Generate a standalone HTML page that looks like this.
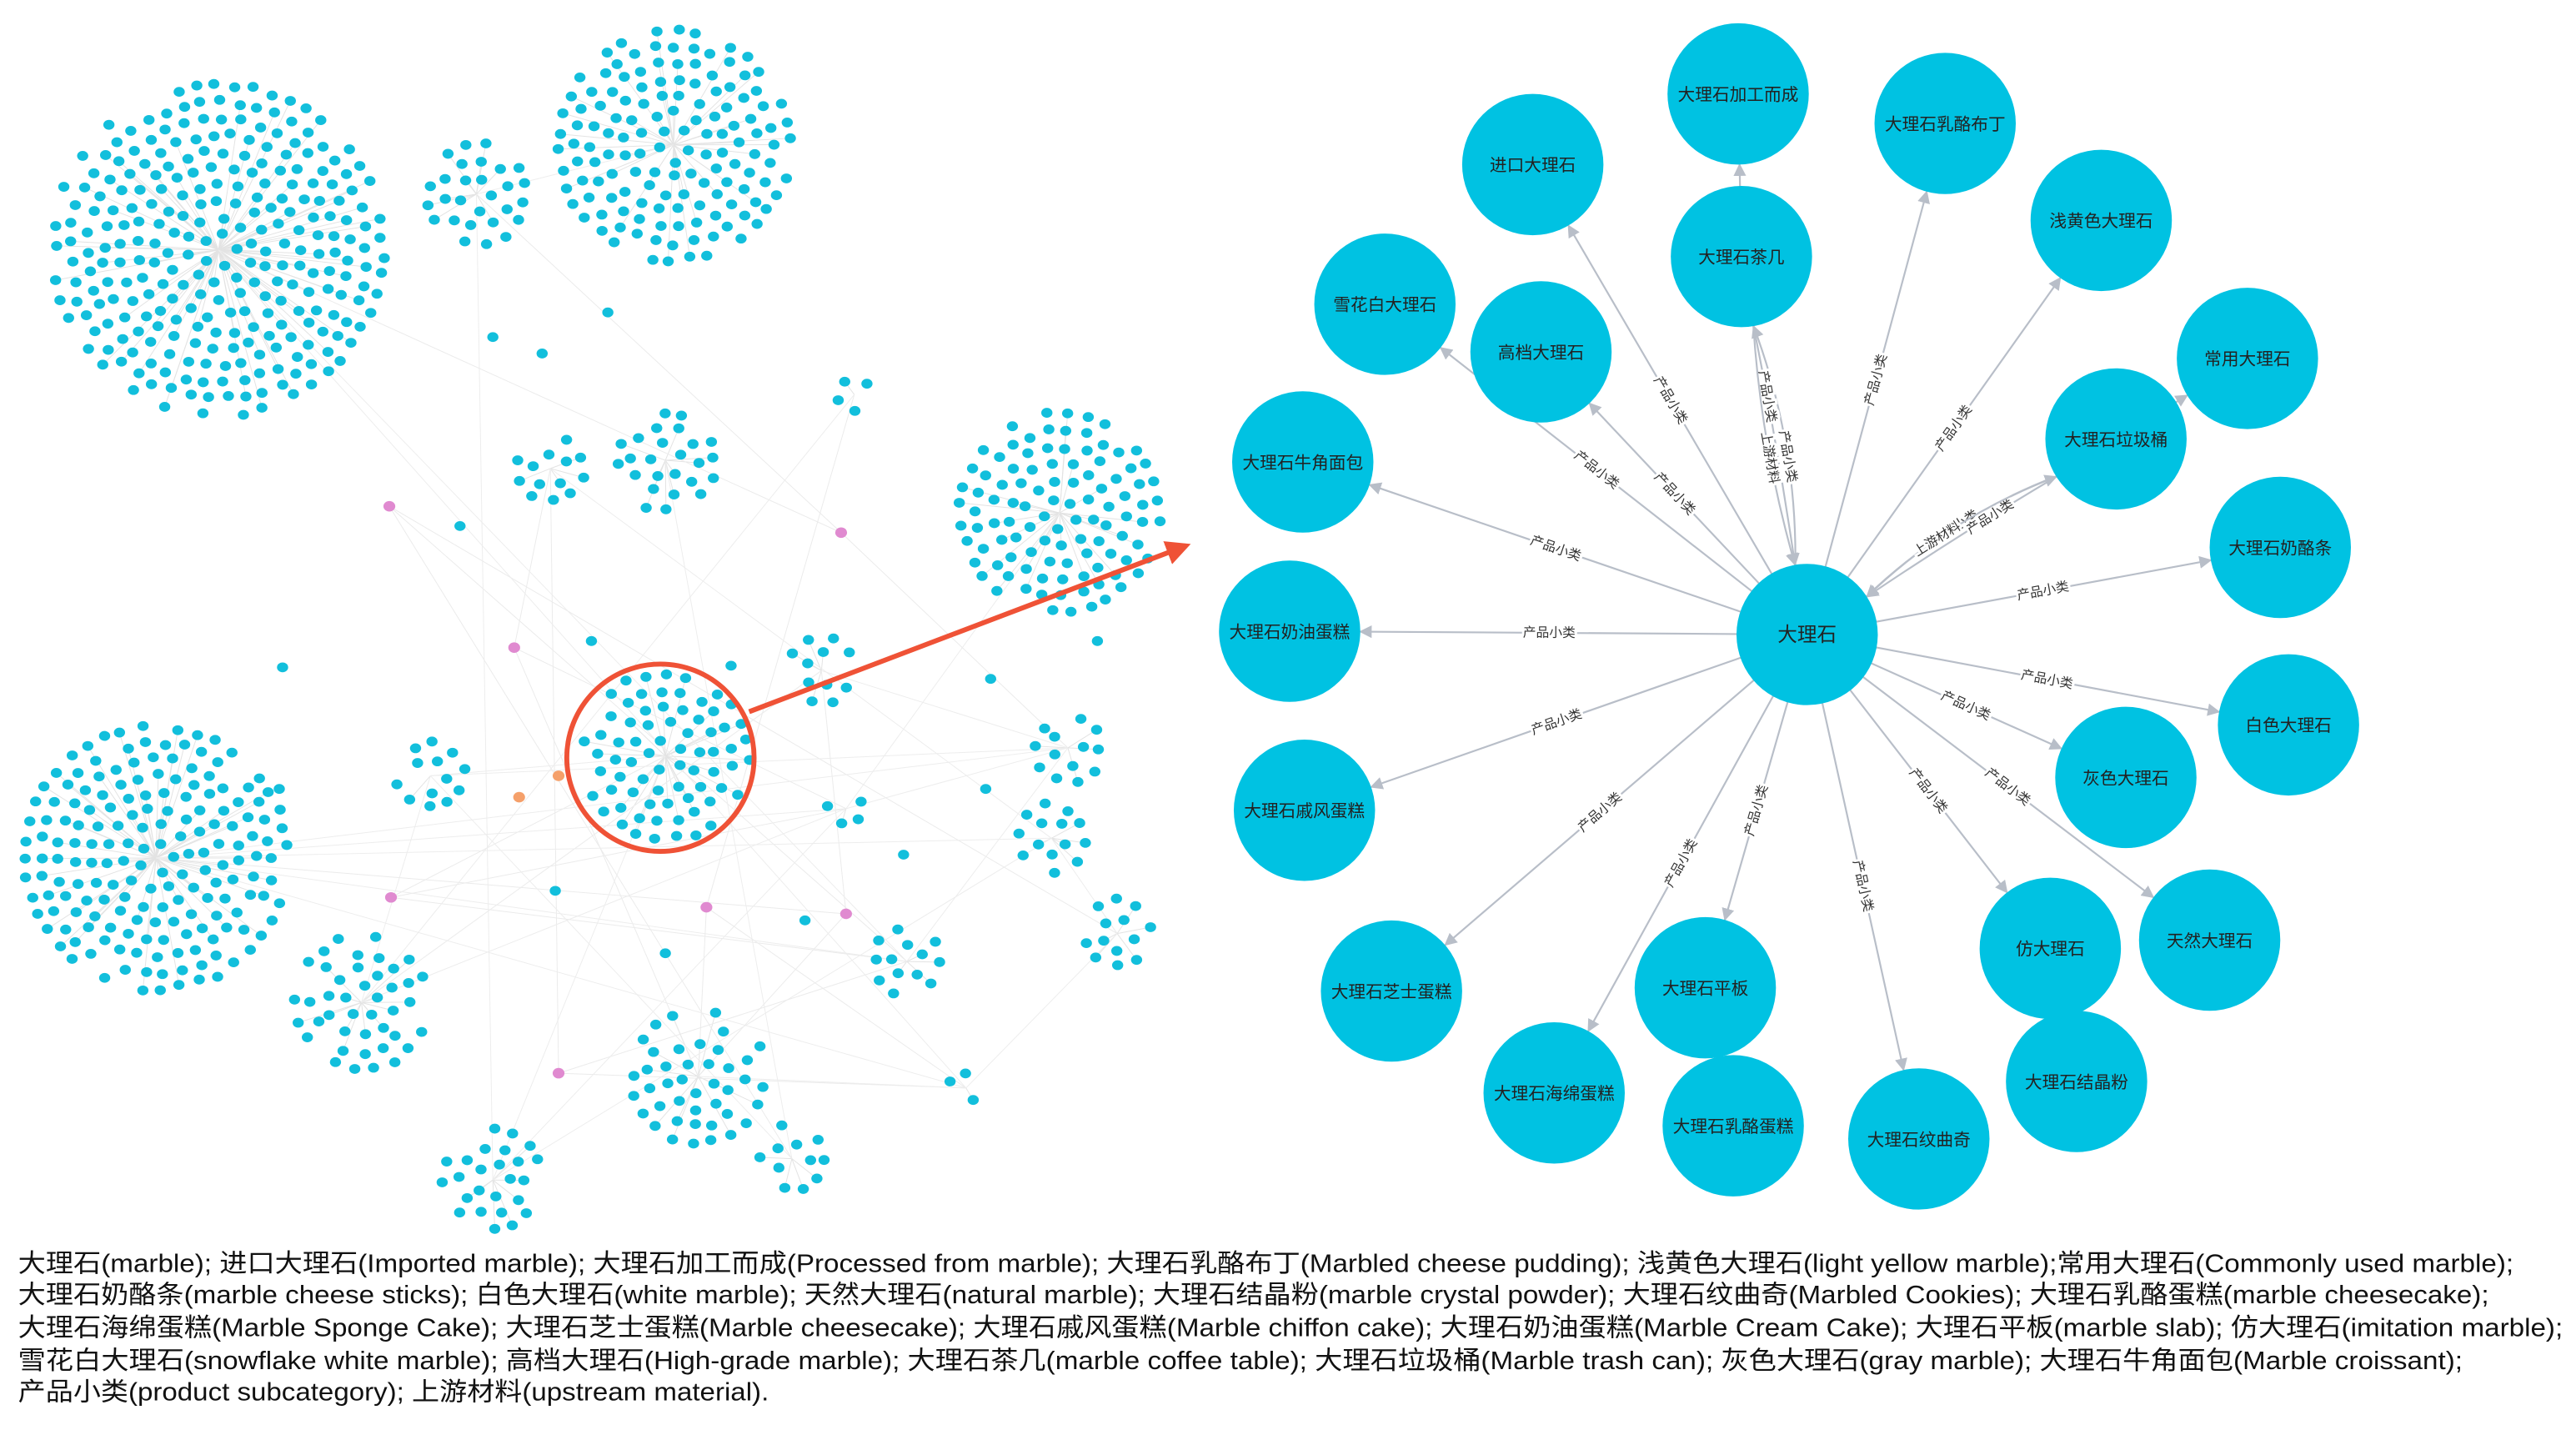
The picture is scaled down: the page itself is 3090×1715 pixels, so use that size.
<!DOCTYPE html>
<html><head><meta charset="utf-8"><style>
html,body{margin:0;padding:0;background:#fff;}
svg{display:block}
</style></head><body>
<svg id="s" width="3090" height="1715" viewBox="0 0 1568 870" xmlns="http://www.w3.org/2000/svg">
<defs>
<marker id="ah" viewBox="0 0 10 10" refX="9" refY="5" markerWidth="7" markerHeight="7" orient="auto"><path d="M0,0 L10,5 L0,10 z" fill="#b8bec8"/></marker>
<marker id="rh" viewBox="0 0 10 10" refX="8" refY="5" markerWidth="5" markerHeight="5" orient="auto"><path d="M0,0 L10,5 L0,10 z" fill="#ef5236"/></marker>
</defs>
<g id="left"></g>
<g id="right"></g>
<circle cx="402" cy="461" r="57" fill="none" stroke="#ef5236" stroke-width="3"/>
<line x1="456" y1="433" x2="722" y2="332" stroke="#ef5236" stroke-width="3" marker-end="url(#rh)"/>
<g font-family="Liberation Sans, Noto Sans CJK SC, sans-serif" font-size="15.6" fill="#111" lengthAdjust="spacingAndGlyphs">
<text x="11" y="774" textLength="1519" lengthAdjust="spacingAndGlyphs">大理石(marble); 进口大理石(Imported marble); 大理石加工而成(Processed from marble); 大理石乳酪布丁(Marbled cheese pudding); 浅黄色大理石(light yellow marble);常用大理石(Commonly used marble);</text>
<text x="11" y="793" textLength="1504" lengthAdjust="spacingAndGlyphs">大理石奶酪条(marble cheese sticks); 白色大理石(white marble); 天然大理石(natural marble); 大理石结晶粉(marble crystal powder); 大理石纹曲奇(Marbled Cookies); 大理石乳酪蛋糕(marble cheesecake);</text>
<text x="11" y="813" textLength="1549" lengthAdjust="spacingAndGlyphs">大理石海绵蛋糕(Marble Sponge Cake); 大理石芝士蛋糕(Marble cheesecake); 大理石戚风蛋糕(Marble chiffon cake); 大理石奶油蛋糕(Marble Cream Cake); 大理石平板(marble slab); 仿大理石(imitation marble);</text>
<text x="11" y="833" textLength="1488" lengthAdjust="spacingAndGlyphs">雪花白大理石(snowflake white marble); 高档大理石(High-grade marble); 大理石茶几(marble coffee table); 大理石垃圾桶(Marble trash can); 灰色大理石(gray marble); 大理石牛角面包(Marble croissant);</text>
<text x="11" y="852" textLength="457" lengthAdjust="spacingAndGlyphs">产品小类(product subcategory); 上游材料(upstream material).</text>
</g>
</svg>
<script>
var NS="http://www.w3.org/2000/svg";
function el(t,a,p){var e=document.createElementNS(NS,t);for(var k in a)e.setAttribute(k,a[k]);p.appendChild(e);return e;}
var seed=7;function rnd(){seed=(seed*16807)%2147483647;return seed/2147483647;}
var L=document.getElementById('left');
var gl=el('g',{},L), gd=el('g',{},L);
var clusters=[[133,152,104],[410,88,74],[290,118,32],[645,312,62],[405,460,52],[95,522,80],[220,610,40],[425,655,40],[405,280,32],[335,285,26],[520,240,16],[650,455,20],[640,510,20],[680,568,20],[552,585,26],[588,662,16],[482,705,20],[300,718,36],[262,472,20],[500,408,20],[515,492,10]];
var hubs=[];
clusters.forEach(function(c){
  var cx=c[0],cy=c[1],R=c[2];hubs.push([cx,cy]);
  for(var r=10;r<=R;r+=10){var n=Math.floor(2*Math.PI*r/11.5);var off=rnd()*6;
    for(var i=0;i<n;i++){var a=off+i*2*Math.PI/n;var x=cx+r*Math.cos(a)+(rnd()-.5)*3,y=cy+r*Math.sin(a)+(rnd()-.5)*3;
      if(r>R-12&&rnd()<0.2)continue;
      if(rnd()<0.3)el('line',{x1:cx,y1:cy,x2:x,y2:y,stroke:'#e3e3e3','stroke-width':.5},gl);
      el('ellipse',{cx:x,cy:y,rx:3.4,ry:3,fill:'#12bfdc'},gd);}}
});
var pink=[[237,308],[512,324],[313,394],[238,546],[430,552],[515,556],[340,653]];
var sing=[[172,406],[280,320],[360,390],[445,405],[603,413],[668,390],[170,480],[405,580],[490,560],[550,520],[600,480],[338,542],[330,215],[370,190],[300,205]];
sing.forEach(function(p){el('ellipse',{cx:p[0],cy:p[1],rx:3.4,ry:3,fill:'#12bfdc'},gd);});
pink.forEach(function(p){for(var k=0;k<3;k++){var h=hubs[Math.floor(rnd()*hubs.length)];el('line',{x1:p[0],y1:p[1],x2:h[0],y2:h[1],stroke:'#ebebeb','stroke-width':.5},gl);}
  el('ellipse',{cx:p[0],cy:p[1],rx:3.6,ry:3.2,fill:'#e08ad0'},gd);});
for(var k=0;k<30;k++){var a=hubs[Math.floor(rnd()*hubs.length)],b=hubs[Math.floor(rnd()*hubs.length)];el('line',{x1:a[0],y1:a[1],x2:b[0],y2:b[1],stroke:'#ededed','stroke-width':.5},gl);}
[[316,485],[340,472]].forEach(function(p){el('ellipse',{cx:p[0],cy:p[1],rx:3.6,ry:3.2,fill:'#f5a06a'},gd);});

var R=document.getElementById('right');
var C=[1100,386], r=42;
var nodes=[["大理石加工而成",1058,57],["大理石乳酪布丁",1184,75],["进口大理石",933,100],["浅黄色大理石",1279,134],["大理石茶几",1060,156],["雪花白大理石",843,185],["高档大理石",938,214],["常用大理石",1368,218],["大理石牛角面包",793,281],["大理石垃圾桶",1288,267],["大理石奶酪条",1388,333],["大理石奶油蛋糕",785,384],["白色大理石",1393,441],["灰色大理石",1294,473],["大理石戚风蛋糕",794,493],["天然大理石",1345,572],["仿大理石",1248,577],["大理石芝士蛋糕",847,603],["大理石平板",1038,601],["大理石海绵蛋糕",946,665],["大理石乳酪蛋糕",1055,685],["大理石结晶粉",1264,658],["大理石纹曲奇",1168,693]];
var eg=el('g',{},R), ng=el('g',{},R);
function edge(x1,y1,x2,y2,label,bend,lt){
  var dx=x2-x1,dy=y2-y1,d=Math.hypot(dx,dy),ux=dx/d,uy=dy/d;
  var sx=x1+ux*r,sy=y1+uy*r,ex=x2-ux*(r+1),ey=y2-uy*(r+1);
  var mx=(sx+ex)/2-uy*bend,my=(sy+ey)/2+ux*bend;
  el('path',{d:'M'+sx+','+sy+' Q'+mx+','+my+' '+ex+','+ey,fill:'none',stroke:'#b8bec8','stroke-width':1.1,'marker-end':'url(#ah)'},eg);
  var t0=lt||0.5,lx=(1-t0)*(1-t0)*sx+2*t0*(1-t0)*mx+t0*t0*ex,ly=(1-t0)*(1-t0)*sy+2*t0*(1-t0)*my+t0*t0*ey;
  var ang=Math.atan2(dy,dx)*180/Math.PI; if(ang>90)ang-=180; if(ang<-90)ang+=180;
  var t=el('text',{x:lx,y:ly+2.5,'font-size':8,'text-anchor':'middle',fill:'#333',stroke:'#fff','stroke-width':3,'paint-order':'stroke','font-family':'Liberation Sans, Noto Sans CJK SC, sans-serif',transform:'rotate('+ang+' '+lx+' '+ly+')'},eg);t.textContent=label;
}
var attach={"大理石加工而成":[1060,156],"常用大理石":[1288,267],"大理石乳酪蛋糕":[1038,601],"大理石结晶粉":[1248,577]};
nodes.forEach(function(n){
  var m=attach[n[0]];
  if(m){var dx=n[1]-m[0],dy=n[2]-m[1],d=Math.hypot(dx,dy);
    el('line',{x1:m[0]+dx/d*r,y1:m[1]+dy/d*r,x2:n[1]-dx/d*(r+1),y2:n[2]-dy/d*(r+1),stroke:'#b8bec8','stroke-width':1.1,'marker-end':'url(#ah)'},eg);
  } else if(n[0]=="大理石茶几") edge(C[0],C[1],n[1],n[2],"产品小类",14,0.45);
  else if(n[0]=="大理石垃圾桶") edge(C[0],C[1],n[1],n[2],"产品小类",-14,0.5);
  else edge(C[0],C[1],n[1],n[2],"产品小类",0);
});
edge(1060,156,C[0],C[1],"产品小类",-2,0.3);
edge(1060,156,C[0],C[1],"上游材料",8,0.55);
edge(1288,267,C[0],C[1],"产品小类",2,0.35);
edge(1288,267,C[0],C[1],"上游材料",14,0.6);
nodes.concat([["大理石",C[0],C[1]]]).forEach(function(n){
  el('circle',{cx:n[1],cy:n[2],r:r+1,fill:'#00c2e2'},ng);
  var t=el('text',{x:n[1],y:n[2]+4,'font-size':n[0]=="大理石"?12:10.5,'text-anchor':'middle',fill:'#222','font-family':'Liberation Sans, Noto Sans CJK SC, sans-serif'},ng);t.textContent=n[0];
});
</script>
</body></html>
